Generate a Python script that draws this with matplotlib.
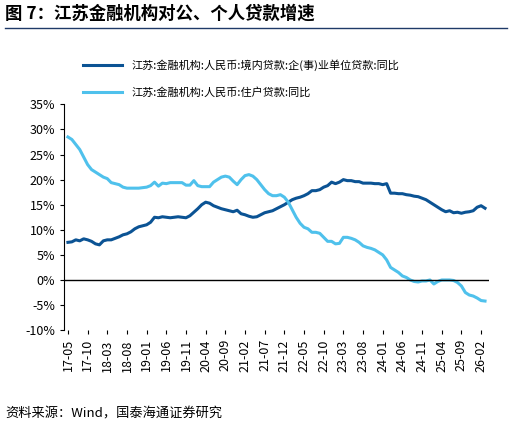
import matplotlib.pyplot as plt
import pandas as pd

plt.rcParams['font.family'] = ['Noto Sans CJK SC', 'DejaVu Sans']

months = pd.period_range('2017-05', '2026-03', freq='M')

corp = [7.5, 7.6, 8.0, 7.8, 8.2, 8.0, 7.7, 7.2,
        7.0, 7.8, 8.0, 8.0, 8.3, 8.6, 9.0, 9.2, 9.6, 10.2, 10.6, 10.8,
        11.0, 11.5, 12.5, 12.4, 12.6, 12.5, 12.4, 12.5, 12.6, 12.5, 12.4, 12.8,
        13.5, 14.2, 15.0, 15.5, 15.3, 14.8, 14.5, 14.2, 14.0, 13.8, 13.6, 13.9,
        13.2, 13.0, 12.7, 12.5, 12.6, 13.0, 13.4, 13.6, 13.8, 14.2, 14.6, 15.0,
        15.5, 16.0, 16.3, 16.5, 16.8, 17.2, 17.8, 17.8, 18.0, 18.5, 18.8, 19.5,
        19.2, 19.5, 20.0, 19.8, 19.8, 19.6, 19.6, 19.3, 19.3, 19.3, 19.2, 19.2,
        19.0, 19.2, 17.3, 17.3, 17.2, 17.2, 17.0, 16.9, 16.7, 16.6, 16.3, 16.0,
        15.5, 15.0, 14.5, 14.0, 13.6, 13.8, 13.4, 13.5, 13.3, 13.5, 13.6, 13.8,
        14.5, 14.8, 14.3]

house = [28.5, 28.0, 27.0, 26.0, 24.5, 23.0, 22.0, 21.5,
         21.0, 20.5, 20.2, 19.4, 19.2, 19.0, 18.5, 18.3, 18.3, 18.3, 18.3, 18.4,
         18.5, 18.8, 19.5, 18.7, 19.3, 19.2, 19.4, 19.4, 19.4, 19.4, 18.9, 18.9,
         19.8, 18.8, 18.6, 18.6, 18.6, 19.5, 20.0, 20.5, 20.7, 20.5, 19.7, 19.0,
         20.0, 20.8, 21.0, 20.7, 20.0, 19.0, 18.0, 17.2, 16.8, 16.8, 17.0, 16.5,
         15.5, 14.0, 12.5, 11.3, 10.5, 10.2, 9.5, 9.5, 9.3, 8.5, 7.7, 7.7,
         7.2, 7.3, 8.5, 8.5, 8.3, 8.0, 7.5, 6.8, 6.5, 6.3, 6.0, 5.5,
         5.0, 4.0, 2.5, 2.0, 1.5, 0.8, 0.5, 0.0, -0.3, -0.4, -0.2, -0.2,
         0.0, -0.8, -0.3, 0.0, 0.0, 0.0, -0.1, -0.5, -1.2, -2.5, -3.0, -3.2,
         -3.6, -4.1, -4.2]

labels = [m.strftime('%y-%m') for m in months]
x = range(len(months))

fig = plt.figure(figsize=(5.12, 4.26), dpi=100)
ax = fig.add_axes([0.125, 0.225, 0.83, 0.53])

ax.plot(x, corp, color='#0b5394', lw=2.2, label='江苏:金融机构:人民币:境内贷款:企(事)业单位贷款:同比')
ax.plot(x, house, color='#4fc1ec', lw=2.2, label='江苏:金融机构:人民币:住户贷款:同比')
ax.axhline(0, color='black', lw=1)

ax.set_ylim(-10, 35)
ax.set_yticks(range(-10, 36, 5))
ax.set_yticklabels([f'{v}%' for v in range(-10, 36, 5)])
ax.set_xlim(-1, len(months))
ax.set_xticks(list(x)[::5])
ax.set_xticklabels(labels[::5], rotation=90)
ax.tick_params(labelsize=9, length=3)
for s in ['top', 'right', 'bottom']:
    ax.spines[s].set_visible(False)

ax.legend(loc='lower left', bbox_to_anchor=(0.03, 1.0), frameon=False,
          fontsize=8, handlelength=3.5, borderaxespad=0.2, labelspacing=1.4)

fig.text(0.01, 0.955, '图 7：江苏金融机构对公、个人贷款增速', fontsize=12.5, fontweight='bold')
fig.add_artist(plt.Line2D([0.01, 0.99], [0.935, 0.935], color='#1f3a68', lw=1))
fig.text(0.01, 0.02, '资料来源：Wind，国泰海通证券研究', fontsize=9.5)

fig.savefig('out.png', dpi=100)
